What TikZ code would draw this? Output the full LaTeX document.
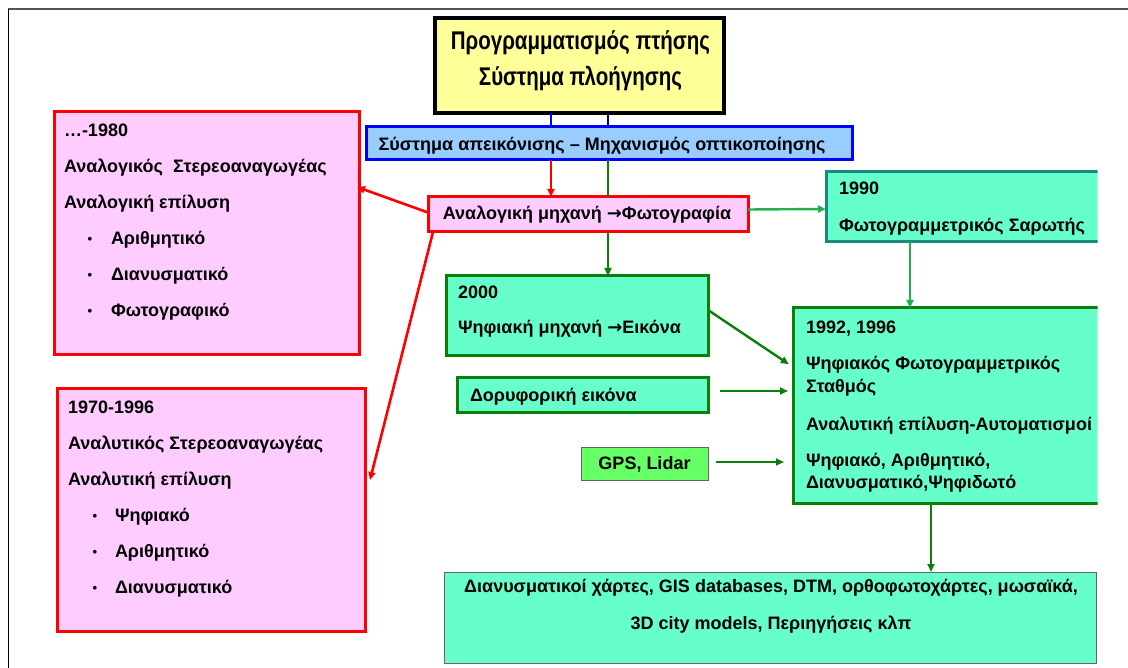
\documentclass[tikz,border=0pt]{standalone}
\usepackage{fontspec}
\setmainfont{Liberation Sans}
\newfontfamily\arrowfont{DejaVu Sans}
\usetikzlibrary{arrows.meta,calc}

\definecolor{pinkfill}{HTML}{FFCCFF}
\definecolor{redline}{HTML}{FF0000}
\definecolor{bluefill}{HTML}{99CCFF}
\definecolor{blueline}{HTML}{0000FF}
\definecolor{navyline}{HTML}{000080}
\definecolor{yellowfill}{HTML}{FFFF99}
\definecolor{aqua}{HTML}{66FFCC}
\definecolor{dgreen}{HTML}{0A800A}
\definecolor{lgreen}{HTML}{22B14C}
\definecolor{tealline}{HTML}{178C7E}
\definecolor{gpsfill}{HTML}{66FF66}
\definecolor{greyline}{HTML}{666666}

\newcommand{\rarr}{{\arrowfont\bfseries →}}

\tikzset{
  box/.style={rectangle, inner sep=0pt, outer sep=0pt},
  pinkbox/.style={box, draw=redline, fill=pinkfill, line width=3pt},
  aquabox/.style={box, draw=dgreen, fill=aqua, line width=3pt},
  txt/.style={inner sep=0pt, outer sep=0pt, anchor=west, text height=13pt, text depth=0pt},
  ctxt/.style={txt, anchor=center},
  bul/.style={inner sep=0pt, outer sep=0pt, anchor=center, font=\bfseries\fontsize{13}{15}\selectfont},
  tip/.style={-{Triangle[length=8pt,width=7pt]}},
  redarr/.style={draw=redline, line width=2.6pt, tip},
  garr/.style={draw=dgreen, line width=2.4pt, tip},
  larr/.style={draw=lgreen, line width=2.4pt, tip},
}

\begin{document}
\begin{tikzpicture}[x=1pt, y=-1pt, font=\bfseries\fontsize{18}{21}\selectfont]
\useasboundingbox (0,0) rectangle (1128,668);
\fill[white] (0,0) rectangle (1128,668);

% page frame
\draw[greyline!80!black, line width=2pt] (8,9.5) -- (1128,9.5);
\draw[black, line width=1.5pt] (8.5,9) -- (8.5,668);

\begin{scope}
\clip (0,0) rectangle (1097.5,668);

% guide x positions of the vertical connectors
\coordinate (xa) at (551,0);
\coordinate (xb) at (608,0);
\coordinate (xc) at (910,0);
\coordinate (xd) at (931,0);

% boxes
\node[box, draw=black, fill=yellowfill, line width=4pt, minimum width=289pt, minimum height=95pt] (plan) at (579.5,65.5) {};
\node[box, draw=blueline, fill=bluefill, line width=3pt, minimum width=486pt, minimum height=33pt] (imaging) at (609,143.5) {};
\node[pinkbox, minimum width=305pt, minimum height=243pt] (analog) at (206.5,233.5) {};
\node[pinkbox, minimum width=308pt, minimum height=242pt] (analyt) at (211,510) {};
\node[pinkbox, minimum width=320pt, minimum height=35pt] (camera) at (588,214.5) {};
\node[box, draw=tealline, fill=aqua, line width=3pt, minimum width=278pt, minimum height=70pt] (scan) at (965,207) {};
\node[aquabox, minimum width=262pt, minimum height=80pt] (digcam) at (577,316) {};
\node[aquabox, minimum width=251pt, minimum height=35pt] (sat) at (582.5,395.5) {};
\node[box, draw=greyline, fill=gpsfill, line width=1pt, minimum width=127pt, minimum height=33pt] (gps) at (644.5,463.5) {};
\node[aquabox, minimum width=311pt, minimum height=195pt] (station) at (948.5,405.5) {};
\node[box, draw=greyline, fill=aqua, line width=1pt, minimum width=652pt, minimum height=91pt] (products) at (770,617.5) {};

% connectors
\draw[blueline, line width=2pt] (plan.south -| xa) -- (imaging.north -| xa);
\draw[navyline, line width=2pt] (plan.south -| xb) -- (imaging.north -| xb);
\draw[redarr] (imaging.south -| xa) -- (camera.north -| xa);
\draw[dgreen, line width=2.4pt] (imaging.south -| xb) -- (camera.north -| xb);
\draw[garr] (camera.south -| xb) -- (digcam.north -| xb);
\draw[redarr] ([yshift=2pt]camera.west) -- ([xshift=-2pt,yshift=46.5pt]analog.east);
\draw[redarr] ([xshift=5pt]camera.south west) -- ([xshift=5pt,yshift=30pt]analyt.east);
\draw[larr] ([yshift=5pt]camera.east) -- ([yshift=-2pt]scan.west);
\draw[larr] (scan.south -| xc) -- (station.north -| xc);
\draw[garr, shorten >=5pt] ([yshift=6pt]digcam.east) -- ([yshift=38.5pt]station.west);
\coordinate (s1) at ($(sat.east)+(12,-4.5)$);
\draw[garr, shorten >=5pt] (s1) -- (station.west |- s1);
\draw[garr, shorten <=8pt, shorten >=9pt] ([yshift=1.5pt]gps.east) -- ([yshift=1.5pt]gps.east -| station.west);
\draw[garr] (station.south -| xd) -- (products.north -| xd);

% texts
\node[ctxt, font=\bfseries\fontsize{20.5}{24}\selectfont] (planA) at (580.5,43) {\scalebox{1}[1.25]{Προγραμματισμός πτήσης}};
\node[ctxt, font=\bfseries\fontsize{20.5}{24}\selectfont] (planB) at (580.5,79) {\scalebox{1}[1.25]{Σύστημα πλοήγησης}};
\node[ctxt] (imgT) at (602,144) {Σύστημα απεικόνισης – Μηχανισμός οπτικοποίησης};
\node[ctxt] (camT) at (587,213) {Αναλογική μηχανή \rarr Φωτογραφία};
\node[txt] (satT) at (470,395) {Δορυφορική εικόνα};
\node[ctxt] (gpsT) at (644.5,463) {GPS, Lidar};

\node[txt] (a1) at (64,130) {…-1980};
\node[txt] (a2) at (64,166) {Αναλογικός\ \ Στερεοαναγωγέας};
\node[txt] (a3) at (64,202) {Αναλογική επίλυση};
\node[bul] (a4b) at (90,240) {•};
\node[txt] (a4) at (111,238) {Αριθμητικό};
\node[bul] (a5b) at (90,276) {•};
\node[txt] (a5) at (111,274) {Διανυσματικό};
\node[bul] (a6b) at (90,312) {•};
\node[txt] (a6) at (111,310) {Φωτογραφικό};

\node[txt] (b1) at (68,407) {1970-1996};
\node[txt] (b2) at (68,443) {Αναλυτικός Στερεοαναγωγέας};
\node[txt] (b3) at (68,479) {Αναλυτική επίλυση};
\node[bul] (b4b) at (95,517) {•};
\node[txt] (b4) at (115,515) {Ψηφιακό};
\node[bul] (b5b) at (95,553) {•};
\node[txt] (b5) at (115,551) {Αριθμητικό};
\node[bul] (b6b) at (95,589) {•};
\node[txt] (b6) at (115,587) {Διανυσματικό};

\node[txt] (c1) at (839,188) {1990};
\node[txt] (c2) at (839,225) {Φωτογραμμετρικός Σαρωτής};

\node[txt] (d1) at (458,292) {2000};
\node[txt] (d2) at (458,327) {Ψηφιακή μηχανή \rarr Εικόνα};

\node[txt] (e1) at (806,327) {1992, 1996};
\node[txt] (e2) at (806,363) {Ψηφιακός Φωτογραμμετρικός};
\node[txt] (e3) at (806,386) {Σταθμός};
\node[txt] (e4) at (806,424) {Αναλυτική επίλυση-Αυτοματισμοί};
\node[txt] (e5) at (806,460) {Ψηφιακό, Αριθμητικό,};
\node[txt] (e6) at (806,482) {Διανυσματικό,Ψηφιδωτό};

\node[ctxt] (f1) at (771,586) {Διανυσματικοί χάρτες, GIS databases, DTM, ορθοφωτοχάρτες, μωσαϊκά,};
\node[ctxt] (f2) at (771,623) {3D city models, Περιηγήσεις κλπ};
\end{scope}
\end{tikzpicture}
\end{document}
